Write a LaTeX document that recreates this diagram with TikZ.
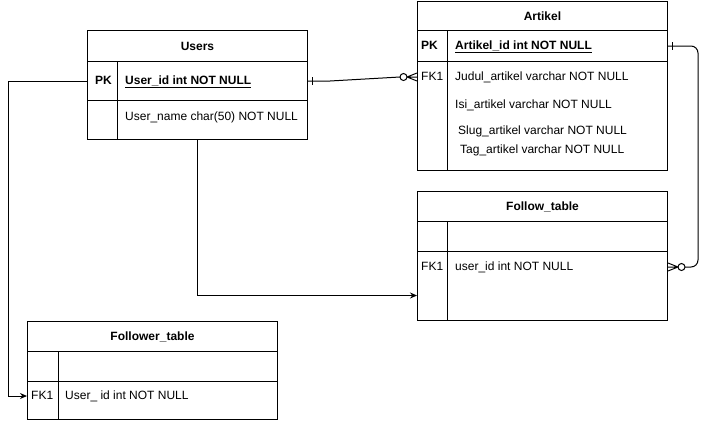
\documentclass[tikz,border=0pt]{standalone}
\usepackage{fontspec}
\setmainfont{Liberation Sans}
\usetikzlibrary{calc,arrows.meta}

\tikzset{
  cell/.style={draw,line width=1pt,inner sep=0pt,anchor=north west},
  head/.style={cell,font=\fontsize{12}{14}\selectfont\bfseries},
  txt/.style={anchor=west,inner sep=0pt,text height=9pt,text depth=3pt},
  rel/.style={line width=1pt},
  >={Stealth[length=7pt,width=6pt]}
}

\begin{document}
\begin{tikzpicture}[x=1pt,y=-1pt,font=\fontsize{12}{14}\selectfont]
  \useasboundingbox (0,0) rectangle (707,421);
  % Users
  \node[head,minimum width=220pt,minimum height=31pt] (users) at (87,30) {Users};
  \node[cell,minimum width=30pt,minimum height=39pt] (upk) at (87,61) {};
  \node[cell,minimum width=190pt,minimum height=39pt] (upkf) at (117,61) {};
  \node[cell,minimum width=30pt,minimum height=39pt] (unk) at (87,100) {};
  \node[cell,minimum width=190pt,minimum height=39pt] (unf) at (117,100) {};
  \node[txt,font=\fontsize{12}{14}\selectfont\bfseries] (upktxt) at (95,81) {PK};
  \node[txt,font=\fontsize{12}{14}\selectfont\bfseries] (uid) at (125,81) {\underline{User\_id int NOT NULL}};
  \node[txt] (uname) at (125,117) {User\_name char(50) NOT NULL};
  % Artikel
  \node[head,minimum width=250pt,minimum height=29pt] (artikel) at (417,1) {Artikel};
  \node[cell,minimum width=30pt,minimum height=31pt] (apk) at (417,30) {};
  \node[cell,minimum width=220pt,minimum height=31pt] (apkf) at (447,30) {};
  \node[cell,minimum width=30pt,minimum height=109pt] (akey) at (417,61) {};
  \node[cell,minimum width=220pt,minimum height=109pt] (afld) at (447,61) {};
  \node[txt,font=\fontsize{12}{14}\selectfont\bfseries] (apktxt) at (421,46) {PK};
  \node[txt,font=\fontsize{12}{14}\selectfont\bfseries] (aid) at (455,46) {\underline{Artikel\_id int NOT NULL}};
  \node[txt] (afk) at (421,77) {FK1};
  \node[txt] (judul) at (455,77) {Judul\_artikel varchar NOT NULL};
  \node[txt] (isi) at (455,105) {Isi\_artikel varchar NOT NULL};
  \node[txt] (slug) at (458,131) {Slug\_artikel varchar NOT NULL};
  \node[txt] (tag) at (460,150) {Tag\_artikel varchar NOT NULL};
  % Follow_table
  \node[head,minimum width=250pt,minimum height=30pt] (follow) at (417,191) {Follow\_table};
  \node[cell,minimum width=30pt,minimum height=30pt] (fek) at (417,221) {};
  \node[cell,minimum width=220pt,minimum height=30pt] (fef) at (447,221) {};
  \node[cell,minimum width=30pt,minimum height=69pt] (fkey) at (417,251) {};
  \node[cell,minimum width=220pt,minimum height=69pt] (ffld) at (447,251) {};
  \node[txt] (ffk) at (421,267) {FK1};
  \node[txt] (fuid) at (455,267) {user\_id int NOT NULL};
  % Follower_table
  \node[head,minimum width=250pt,minimum height=30pt] (follower) at (27,321) {Follower\_table};
  \node[cell,minimum width=31pt,minimum height=30pt] (wek) at (27,351) {};
  \node[cell,minimum width=219pt,minimum height=30pt] (wef) at (58,351) {};
  \node[cell,minimum width=31pt,minimum height=38pt] (wkey) at (27,381) {};
  \node[cell,minimum width=219pt,minimum height=38pt] (wfld) at (58,381) {};
  \node[txt] (wfk) at (31,396) {FK1};
  \node[txt] (wuid) at (65,396) {User\_ id int NOT NULL};
  %
  \coordinate (ua) at (akey.west |- afk);
  \coordinate (fa) at (ffld.east |- ffk);
  \draw[rel] (upkf.east) -- ++(22,0) -- ($(ua)+(-17,0)$);
  \draw[rel] ($(upkf.east)+(4,-4)$) -- ++(0,8);
  \draw[rel] ($(ua)+(-13.5,0)$) circle (3.5);
  \draw[rel] ($(ua)+(-10,0)$) -- ++(10,-4) ++(-10,4) -- ++(10,0) ++(-10,0) -- ++(10,4);
  %
  \draw[rel,rounded corners=7pt] (apkf.east) -- ++(30,0) |- ($(fa)+(17,0)$);
  \draw[rel] ($(apkf.east)+(4,-4)$) -- ++(0,8);
  \draw[rel] ($(fa)+(13.5,0)$) circle (3.5);
  \draw[rel] ($(fa)+(10,0)$) -- ++(-10,-4) ++(10,4) -- ++(-10,0) ++(10,0) -- ++(-10,4);
  %
  \draw[rel,->] (users.center |- unf.south) |- ($(fkey.west)+(0,9.5)$);
  \draw[rel,->] (upk.west) -- ++(-79,0) |- (wkey.west |- wfk);
\end{tikzpicture}
\end{document}
